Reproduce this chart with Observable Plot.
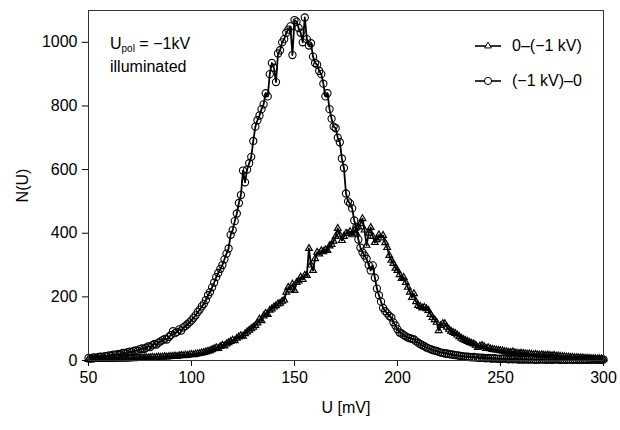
<!DOCTYPE html>
<html><head><meta charset="utf-8">
<script src="https://cdn.jsdelivr.net/npm/d3@7"></script>
<script src="https://cdn.jsdelivr.net/npm/@observablehq/plot@0.6"></script>
<style>
body{margin:0;background:#fff;font-family:"Liberation Sans",Arial,sans-serif;}
#wrap{position:relative;width:620px;height:430px;}
.t{position:absolute;font-size:16px;color:#000;white-space:nowrap;line-height:20px;}
.t sub{font-size:10px;color:#000;vertical-align:baseline;position:relative;top:3px;}
.leg{position:absolute;display:flex;align-items:center;height:20px;font-size:16px;color:#000;white-space:nowrap;}
.leg svg{margin-right:11px;}
</style></head><body><div id="wrap"></div>
<script>
// U grid [mV], 1 mV step from 50 to 300
const uGrid = d3.range(50, 301, 1);

// series "0–(−1 kV)" (triangles), N(U) for U = 50..300
const nUp = [
3,2,4,3,3,4,3,4,5,4,4,5,4,5,6,5,5,6,5,6,6,
7,6,7,8,7,8,8,9,8,9,10,9,10,11,10,11,12,11,12,13,
13,14,13,15,16,15,17,16,18,19,18,20,21,22,24,25,27,29,31,34,
37,40,38,44,48,46,52,56,60,64,62,70,74,78,76,84,90,95,100,105,
110,118,130,125,140,148,145,158,162,168,172,178,180,186,190,215,230,222,240,220,
245,250,262,255,268,267,352,300,283,320,340,335,345,342,348,346,360,365,375,390,
415,395,377,390,400,399,405,395,409,400,420,430,446,410,362,400,418,390,371,380,
395,385,393,370,355,330,315,305,290,283,270,258,261,245,230,215,198,210,185,173,
170,165,167,163,157,145,135,128,120,94,110,116,116,105,98,92,88,85,80,75,
70,66,63,60,57,54,52,48,41,45,47,44,38,40,37,35,34,33,32,31,
30,28,27,26,25,27,24,23,22,23,22,21,20,21,19,18,19,18,17,18,
17,16,17,16,15,16,14,14,13,12,12,11,11,10,10,9,9,8,8,8,7,7,7,6,6,6,5,6,5,5
];

// series "(−1 kV)–0" (circles), N(U) for U = 50..300
const nDown = [
8,6,9,10,8,11,12,10,14,13,16,
15,18,17,20,19,22,24,22,26,28,
26,30,32,30,36,38,36,40,44,42,
48,52,50,56,60,64,68,66,74,80,
92,86,90,98,94,104,108,114,120,126,
134,142,152,160,170,178,190,205,215,230,
245,262,275,288,300,318,336,352,395,410,
438,462,495,520,597,560,600,620,640,690,
735,755,770,790,805,840,830,900,935,920,
875,965,975,1000,1010,1030,1040,1050,960,1070,
1065,1045,1030,1000,1078,1010,990,997,955,935,
930,910,900,870,830,840,790,760,735,730,
700,686,635,605,525,500,494,478,440,418,
380,355,340,330,320,300,283,299,260,226,
205,185,165,155,148,140,135,120,110,98,
88,85,80,76,72,70,68,66,60,56,
52,48,45,41,38,36,33,31,30,27,
25,24,22,22,20,19,18,17,16,15,
14,13,12,12,11,10,11,9,10,8,
9,8,7,8,7,6,7,6,5,6,
5,6,5,4,5,4,5,4,3,4,
3,4,3,3,4,3,2,3,3,4,3,2,3,3,2,3,4,3,2,3,
3,2,3,3,2,3,2,3,3,2,3,2,3,2,3,3,2,3,2,3
];

const seriesNames = ["0–(−1 kV)", "(−1 kV)–0"];
const xTicks = [50, 100, 150, 200, 250, 300];
const yTicks = [0, 200, 400, 600, 800, 1000];

const up = uGrid.map((u, i) => ({u, n: nUp[i], s: seriesNames[0]}));
const down = uGrid.map((u, i) => ({u, n: nDown[i], s: seriesNames[1]}));

const rTri = 2.5, rCirc = 3.6;

const plot = Plot.plot({
  width: 620, height: 430,
  marginLeft: 88, marginRight: 17, marginTop: 10, marginBottom: 70,
  style: {fontFamily: "Liberation Sans, Arial, sans-serif", fontSize: "16px", color: "#000", background: "#fff"},
  x: {domain: [50, 300], ticks: xTicks, tickFormat: d3.format("d"), label: "U [mV]", labelAnchor: "center", labelArrow: "none", tickSize: 6, tickPadding: 5, labelOffset: 52},
  y: {domain: [0, 1100], ticks: yTicks, tickFormat: d3.format("d"), label: "N(U)", labelAnchor: "center", labelArrow: "none", tickSize: 6, tickPadding: 5, labelOffset: 72},
  marks: [
    Plot.line(up, {x: "u", y: "n", stroke: "black", strokeWidth: 1.8}),
    Plot.dot(up, {x: "u", y: "n", symbol: "triangle", r: rTri, stroke: "black", fill: "none", strokeWidth: 1.2}),
    Plot.line(down, {x: "u", y: "n", stroke: "black", strokeWidth: 1.8}),
    Plot.dot(down, {x: "u", y: "n", symbol: "circle", r: rCirc, stroke: "black", fill: "none", strokeWidth: 1.1}),
    Plot.frame({stroke: "#333", strokeWidth: 1})
  ]
});
const wrap = document.getElementById("wrap");
wrap.appendChild(plot);

// annotation
const a1 = document.createElement("div");
a1.className = "t"; a1.style.left = "110px"; a1.style.top = "34px";
a1.innerHTML = "U<sub>pol</sub> = −1kV";
wrap.appendChild(a1);
const a2 = document.createElement("div");
a2.className = "t"; a2.style.left = "110px"; a2.style.top = "57px";
a2.textContent = "illuminated";
wrap.appendChild(a2);

// legend
function legendItem(name, sym, r, top) {
  const d = document.createElement("div");
  d.className = "leg"; d.style.left = "475px"; d.style.top = top + "px";
  const path = d3.symbol(sym, Math.PI * r * r)();
  d.innerHTML = `<svg width="26" height="20"><line x1="0" x2="26" y1="10" y2="10" stroke="black" stroke-width="1.6"/><path transform="translate(13,10)" d="${path}" fill="white" stroke="black" stroke-width="1"/></svg><span>${name}</span>`;
  wrap.appendChild(d);
}
legendItem(seriesNames[0], d3.symbolTriangle, rTri, 36);
legendItem(seriesNames[1], d3.symbolCircle, rCirc, 71);
</script></body></html>
